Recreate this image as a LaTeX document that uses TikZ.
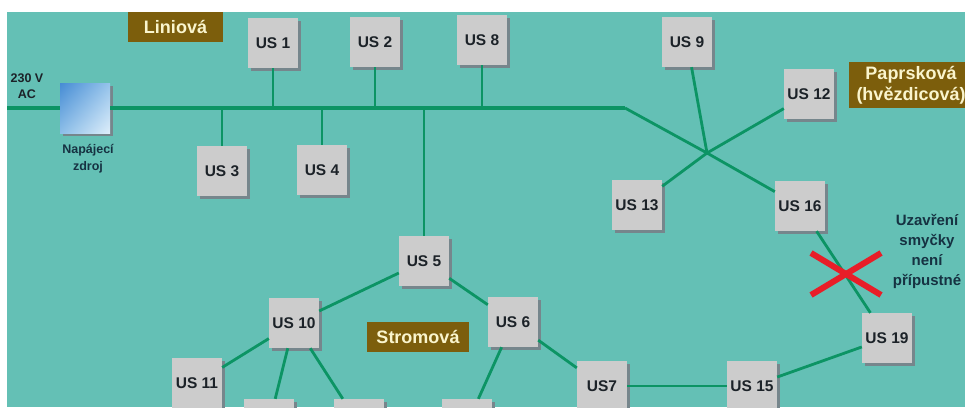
\documentclass[tikz,border=0pt]{standalone}
\usepackage{fontspec}
\setmainfont{Liberation Sans}
\usetikzlibrary{shadows,shadings,shapes.misc}

\definecolor{sea}{RGB}{100,192,181}
\definecolor{cable}{RGB}{12,148,100}
\definecolor{boxgray}{RGB}{204,204,204}
\definecolor{boxshade}{RGB}{118,134,140}
\definecolor{bronze}{RGB}{124,94,12}
\definecolor{cream}{RGB}{250,245,205}
\definecolor{ink}{RGB}{28,34,40}
\definecolor{navy}{RGB}{22,50,66}
\definecolor{xred}{RGB}{232,30,40}
\definecolor{psuA}{RGB}{70,140,212}
\definecolor{psuB}{RGB}{150,196,235}
\definecolor{psuC}{RGB}{140,190,232}
\definecolor{psuD}{RGB}{222,238,250}

\begin{document}
\begin{tikzpicture}[
    x=1pt, y=-1pt,
    station/.style={rectangle, fill=boxgray, minimum width=50pt, minimum height=50pt, inner sep=0pt, text=ink, font=\fontsize{15.5}{15}\selectfont\bfseries, drop shadow={shadow xshift=2.5pt, shadow yshift=-2.5pt, fill=boxshade, opacity=1}},
    tag/.style={rectangle, fill=bronze, text=cream, inner sep=0pt, minimum height=30pt, font=\fontsize{18}{19}\selectfont\bfseries},
    note/.style={align=center, inner sep=0pt, text=navy, font=\fontsize{12}{17}\selectfont\bfseries},
    bus/.style={draw=cable, line width=3.4pt},
    link/.style={draw=cable, line width=2.8pt}
]
    \useasboundingbox (0,0) rectangle (965,407);
    \clip (0,0) rectangle (965,407);
    \fill[white] (0,0) rectangle (965,407);
    \fill[sea] (7,12) rectangle (965,407);

    % labels
    \node[tag, minimum width=95pt] (linear) at (175.5,27) {Liniová};
    \node[tag, minimum width=124pt, minimum height=46pt, align=center, font=\fontsize{18}{21}\selectfont\bfseries] (star) at (911,85) {Paprsková\\(hvězdicová)};
    \node[tag, minimum width=102pt] (tree) at (418,337) {Stromová};
    \node[note, font=\fontsize{12.5}{16}\selectfont\bfseries, text=ink] (mains) at (27,86) {230 V\\AC};
    \node[note, font=\fontsize{12.5}{17}\selectfont\bfseries] (psutxt) at (88,159) {Napájecí\\zdroj};
    \node[note, font=\fontsize{15}{20}\selectfont\bfseries] (warn) at (927,251) {Uzavření\\smyčky\\není\\přípustné};

    % power supply
    \node[rectangle, minimum width=50pt, minimum height=50pt, inner sep=0pt,
          upper left=psuA, upper right=psuB, lower left=psuC, lower right=psuD,
          drop shadow={shadow xshift=2.5pt, shadow yshift=-2.5pt, fill=boxshade, opacity=1}] (psu) at (85,108) {};

    % stations
    \node[station] (us1) at (273,43) {US 1};
    \node[station] (us2) at (375,42) {US 2};
    \node[station] (us8) at (482,40) {US 8};
    \node[station] (us3) at (222,171) {US 3};
    \node[station] (us4) at (322,170) {US 4};
    \node[station] (us9) at (687,42) {US 9};
    \node[station] (us12) at (809,94) {US 12};
    \node[station] (us13) at (637,205) {US 13};
    \node[station] (us16) at (800,206) {US 16};
    \node[station] (us5) at (424,261) {US 5};
    \node[station] (us10) at (294,323) {US 10};
    \node[station] (us6) at (513,322) {US 6};
    \node[station] (us11) at (197,383) {US 11};
    \node[station] (us7) at (602,386) {US7};
    \node[station] (us15) at (752,386) {US 15};
    \node[station] (us19) at (887,338) {US 19};
    \node[station] (leafa) at (269,424) {};
    \node[station] (leafb) at (359,424) {};
    \node[station] (leafc) at (467,424) {};

    % bus
    \coordinate (feed) at (7,108);
    \coordinate (knee) at (625,108);
    \coordinate (hub) at (707,153);
    \draw[bus] (feed) -- (psu);
    \draw[bus] (psu) -- (knee);
    \draw[link] (knee) -- (hub) -- (us16);
    \foreach \s in {us1,us2,us8,us3,us4,us5}
        \draw[link] (\s) -- (\s |- knee);

    % star
    \draw[link] (hub) -- (us9);
    \draw[link] (hub) -- (us12);
    \draw[link] (hub) -- (us13);

    % tree
    \draw[link] (us5) -- (us10);
    \draw[link] (us5) -- (us6);
    \draw[link] (us10) -- (us11);
    \draw[link] (us10) -- (leafa);
    \draw[link] (us10) -- (leafb);
    \draw[link] (us6) -- (leafc);
    \draw[link] (us6) -- (us7);
    \draw[link] (us7) -- (us15);
    \draw[link] (us15) -- (us19);
    \draw[link] (us16) -- (us19);

    % loop not allowed
    \node[draw=xred, line width=6pt, cross out, minimum width=64pt, minimum height=36pt] (veto) at (846,274) {};
\end{tikzpicture}
\end{document}
